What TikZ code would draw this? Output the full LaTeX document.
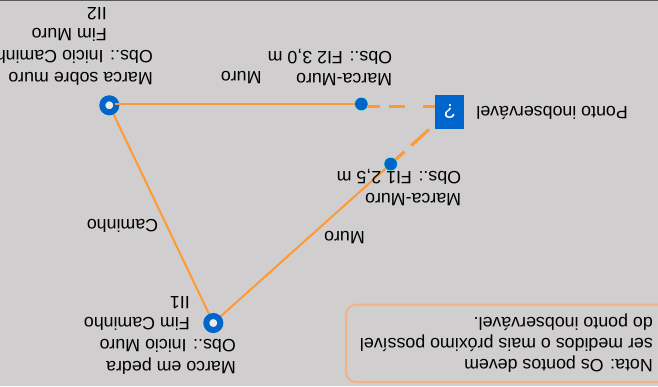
\documentclass[tikz,border=0pt]{standalone}
\usepackage{fontspec}
\setmainfont{Liberation Sans}
\usetikzlibrary{backgrounds}
\definecolor{fundo}{HTML}{D0CECE}
\definecolor{azul}{HTML}{0066CC}
\definecolor{laranja}{HTML}{FF9933}
\definecolor{caixa}{HTML}{F4B183}
\tikzset{
	rotulo/.style={rotate=180, anchor=base west, inner sep=0pt, align=left, font=\fontsize{17.8}{21.3}\selectfont},
	marco/.style={circle, draw=azul, line width=6pt, fill=fundo!40!white, minimum size=14pt, inner sep=0pt, outer sep=0pt},
	marca/.style={circle, draw=green!50!cyan!40!white, fill=azul, line width=0.4pt, minimum size=13.5pt, inner sep=0pt, outer sep=0pt},
	linha/.style={laranja, line width=2pt},
	tracejada/.style={laranja, line width=3pt}
}
\begin{document}
\begin{tikzpicture}[x=1pt, y=-1pt]
	\useasboundingbox (0,0) rectangle (658,386);
	% pontos
	\node[marco] (I2) at (109.3,105.3) {};
	\node[marco] (I1) at (213.3,323) {};
	\node[marca] (F2) at (361.3,104) {};
	\node[marca] (F1) at (390.7,164) {};
	\node[rectangle, fill=azul, minimum width=29.5pt, minimum height=34.5pt, inner sep=0pt, text=white, font=\fontsize{20}{24}\selectfont, rotate=180] (Q) at (449.7,111.8) {?};
	\coordinate (I2m) at (114.5,104);
	\coordinate (Qa) at (435,106.5);
	\coordinate (Fa) at (361.3,106.5);
	\coordinate (Qb) at (429,129.5);
	% linhas
	\begin{scope}[on background layer]
	\fill[fundo] (0,0) rectangle (658,386);
	\draw[black!65, line width=1.5pt] (0,0.5) -- (658,0.5);
	\draw[linha] (I2) -- (I1);
	\draw[linha] (I1) -- (F1);
	\draw[tracejada, dash pattern=on 12pt off 18pt on 16pt off 9pt on 40pt off 0pt] (Qa) -- (Fa);
	\draw[tracejada, dash pattern=on 24pt off 9pt on 40pt off 0pt] (Qb) -- (F1);
	\end{scope}
	\draw[linha] (I2m) -- (F2);
	% textos
	\node[rotulo] (tI1a) at (236,339.7) {Marco em pedra\\Obs.: Inicio Muro};
	\node[rotulo] (tI1b) at (190,296.3) {Fim Caminho\\II1};
	\node[rotulo] (tI2a) at (153,50.7) {Marca sobre muro\\Obs.: Inicio Caminho};
	\node[rotulo] (tI2b) at (107,7.5) {Fim Muro\\II2};
	\node[rotulo] (tMuro2) at (261.7,71.7) {Muro};
	\node[rotulo] (tF2) at (392.3,51.7) {Marca-Muro\\Obs.: FI2 3,0 m};
	\node[rotulo] (tQ) at (628,106) {Ponto inobservável};
	\node[rotulo] (tF1) at (461.3,171.7) {Marca-Muro\\Obs.: FI1 2,5 m};
	\node[rotulo] (tMuro1) at (365,231.3) {Muro};
	\node[rotulo] (tCam) at (158.3,219.7) {Caminho};
	% nota
	\node[rotulo] (tNota) at (653,317) {Nota: Os pontos devem\\ser medidos o mais próximo possível\\do ponto inobservável.};
	\draw[caixa, line width=2pt, rounded corners=10pt] (346,304.7) rectangle (675,382);
\end{tikzpicture}
\end{document}
